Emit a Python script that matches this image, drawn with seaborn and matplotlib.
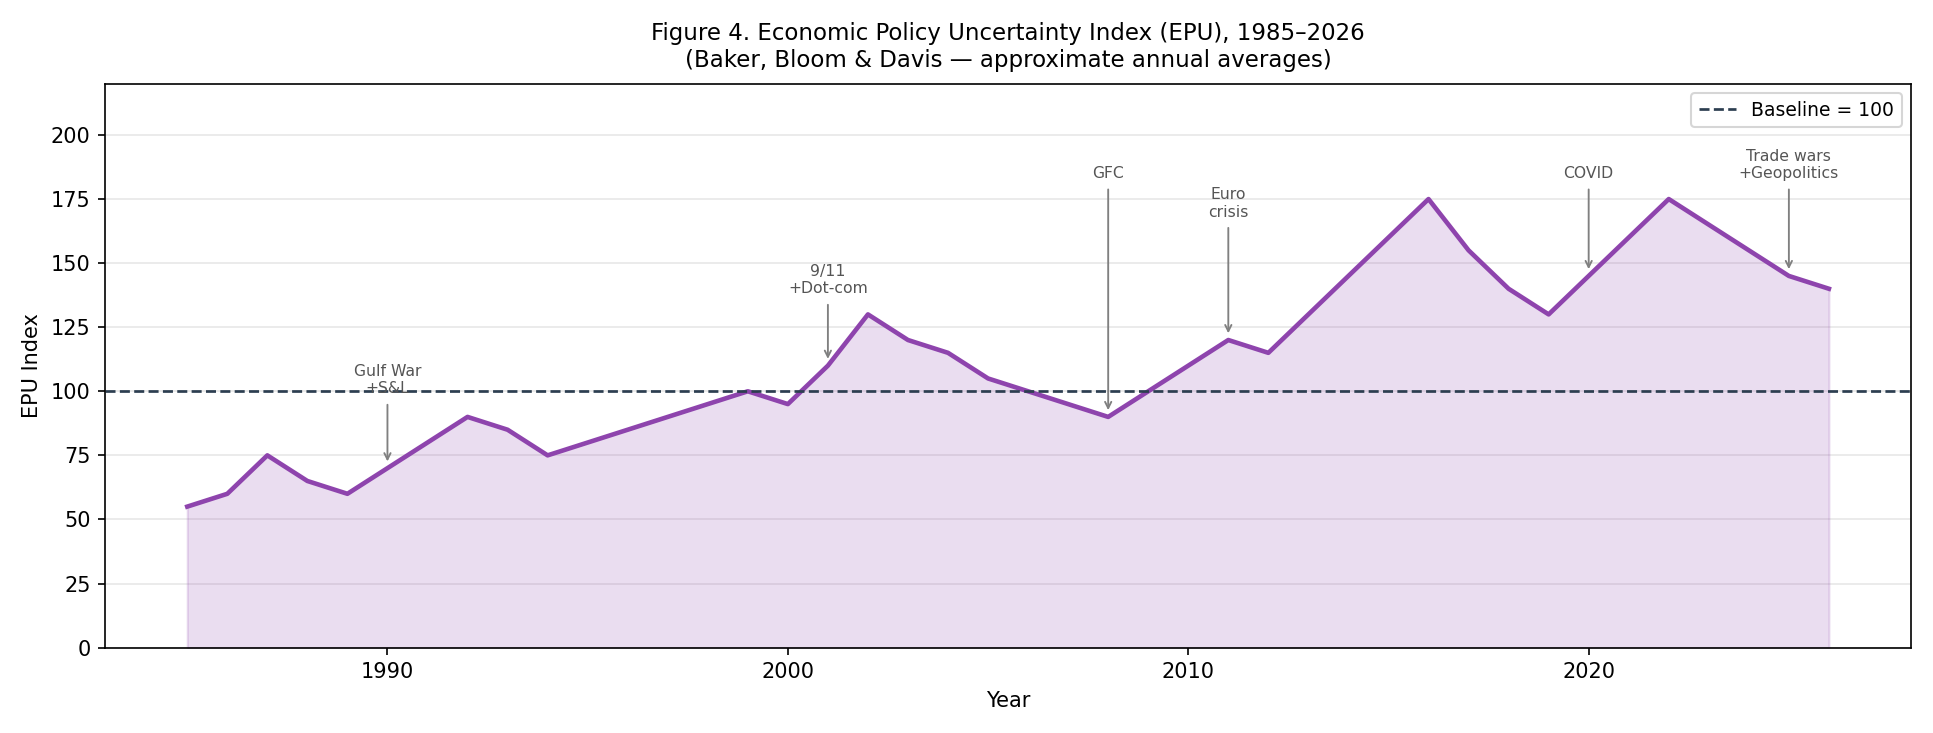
import pandas as pd
import matplotlib.pyplot as plt
import seaborn as sns

# EPU index, approximate annual averages
years = list(range(1985, 2027))
epu = [55, 60, 75, 65, 60, 70, 80, 90, 85, 75,
       80, 85, 90, 95, 100, 95, 110, 130, 120, 115,
       105, 100, 95, 90, 100, 110, 120, 115, 130, 145,
       160, 175, 155, 140, 130, 145, 160, 175, 165, 155,
       145, 140]

# events: label, year, height of text
event_labels = ['Gulf War\n+S&L', '9/11\n+Dot-com', 'GFC', 'Euro\ncrisis', 'COVID', 'Trade wars\n+Geopolitics']
event_years = [1990, 2001, 2008, 2011, 2020, 2025]
event_text_y = [98, 137, 182, 167, 182, 182]

df = pd.DataFrame({'Year': years, 'EPU': epu})

plt.rcParams['font.family'] = ['DejaVu Sans']

fig, ax = plt.subplots(figsize=(12.89, 4.887), dpi=150)

purple = '#8E44AD'
ax.fill_between(df['Year'], df['EPU'], color=purple, alpha=0.18)
sns.lineplot(data=df, x='Year', y='EPU', color=purple, linewidth=2.2, ax=ax)
ax.axhline(100, color='#2c3e50', linestyle='--', linewidth=1.3, label='Baseline = 100')

# arrows pointing at the events
for label, yr, ty in zip(event_labels, event_years, event_text_y):
    val = df.loc[df['Year'] == yr, 'EPU'].iloc[0]
    ax.annotate(label, xy=(yr, val + 1), xytext=(yr, ty),
                ha='center', va='bottom', fontsize=7.5, color='#555555',
                arrowprops=dict(arrowstyle='->', color='gray', lw=0.9))

ax.set_ylim(0, 220)
ax.set_yticks(range(0, 201, 25))
ax.set_xlabel('Year')
ax.set_ylabel('EPU Index')
ax.set_title('Figure 4. Economic Policy Uncertainty Index (EPU), 1985\u20132026\n'
             '(Baker, Bloom & Davis \u2014 approximate annual averages)', fontsize=11, pad=8)
ax.grid(axis='y', alpha=0.3)
ax.set_axisbelow(True)
ax.legend(loc='upper right', fontsize=9)

plt.tight_layout()
plt.savefig('out.png', dpi=150)
